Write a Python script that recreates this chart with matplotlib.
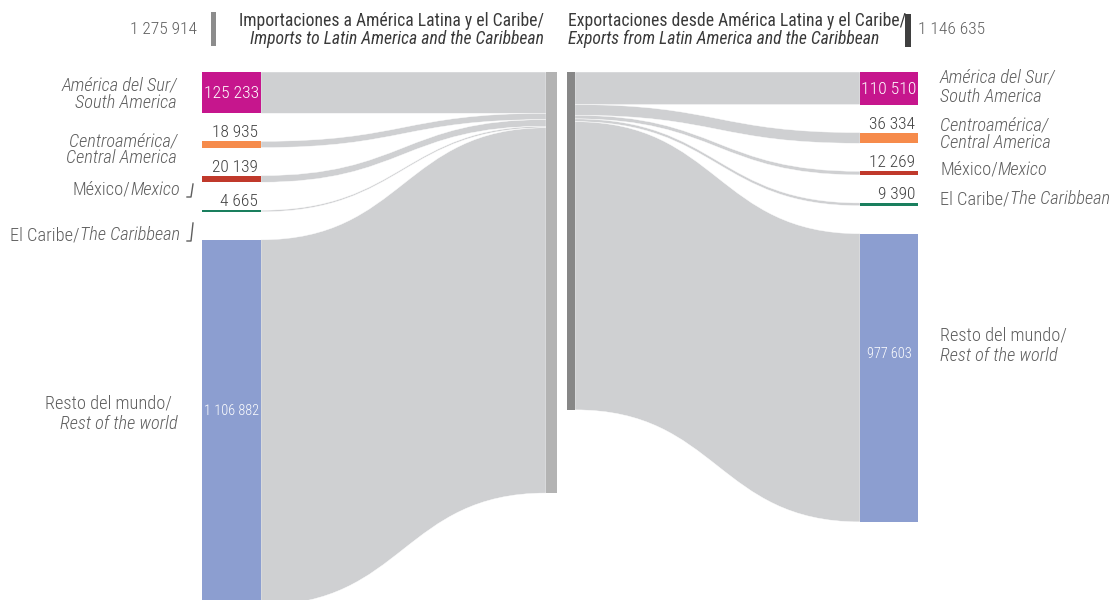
import statistics
import matplotlib
matplotlib.use("Agg")
import matplotlib.pyplot as plt
from matplotlib import font_manager as fm
from matplotlib.path import Path
from matplotlib.patches import PathPatch, Rectangle
from matplotlib.lines import Line2D

# ---------------- data ----------------
regions_es = ["América del Sur/", "Centroamérica/", "México/", "El Caribe/", "Resto del mundo/"]
regions_en = ["South America", "Central America", "Mexico", "The Caribbean", "Rest of the world"]
imports = [125233, 18935, 20139, 4665, 1106882]
exports = [110510, 36334, 12269, 9390, 977603]
import_total = 1275914
export_total = 1146635
header_imp = ["Importaciones a América Latina y el Caribe/", "Imports to Latin America and the Caribbean"]
header_exp = ["Exportaciones desde América Latina y el Caribe/", "Exports from Latin America and the Caribbean"]

# ---------------- styles ----------------
node_colors = ["#C6168D", "#F68B4B", "#C0392B", "#1A7F5E", "#8C9ED0"]
flow_color = "#CFD0D2"
imp_bar_color = "#B3B3B3"
exp_bar_color = "#878787"
txt = "#5E5E5E"
dark = "#404040"
head = "#3A3A3A"

# ---- pick a condensed font if one is installed ----
entries = fm.fontManager.ttflist
names = {f.name for f in entries}
FAMILY, STRETCH = None, 'normal'
for c in ['Roboto Condensed', 'Liberation Sans Narrow', 'Noto Sans Condensed',
          'Open Sans Condensed', 'Arial Narrow', 'DejaVu Sans Condensed']:
    if c in names:
        FAMILY = c
        break
if FAMILY is None:
    for fam in ['Roboto', 'Noto Sans', 'DejaVu Sans', 'Open Sans']:
        if any(f.name == fam and 'condensed' in str(f.stretch) for f in entries):
            FAMILY, STRETCH = fam, 'condensed'
            break
if FAMILY is None:
    FAMILY = 'Roboto' if 'Roboto' in names else 'DejaVu Sans'
FONT = [FAMILY, 'DejaVu Sans']
plt.rcParams['font.family'] = FONT
LIGHT = 'light'

fig = plt.figure(figsize=(11.09, 6.0), dpi=100)
ax = fig.add_axes([0, 0, 1, 1])
ax.set_xlim(0, 1109)
ax.set_ylim(600, 0)
ax.axis('off')
fig.canvas.draw()
renderer = fig.canvas.get_renderer()

TOP = 72
GAP = 28
L_SCALE = 3030.0   # units per pixel, import side
R_SCALE = 3392.0   # units per pixel, export side
LX0, LX1 = 202, 261
IX0, IX1 = 546, 557
EX0, EX1 = 567, 575
RX0, RX1 = 860, 918


def fmt(v):
    return f"{v:,}".replace(",", " ")


def T(x, y, s, size, style='normal', weight=LIGHT, **kw):
    return ax.text(x, y, s, fontsize=size, style=style, fontstretch=STRETCH, fontweight=weight, **kw)


def measure(s, size, style='normal', weight=LIGHT):
    t = T(0, 0, s, size, style, weight)
    w = t.get_window_extent(renderer=renderer).width
    t.remove()
    return w


def fit_size(items, base=12.0, weight=LIGHT):
    ratios = []
    for parts, target in items:
        w = sum(measure(s, base, st, weight) for s, st in parts)
        ratios.append(target / w)
    return base * statistics.median(ratios)


# font sizes fitted to the widths the texts take in the chart
HEAD_FS = fit_size([
    ([(header_imp[0], 'normal')], 300), ([(header_imp[1], 'italic')], 298),
    ([(header_exp[0], 'normal')], 331), ([(header_exp[1], 'italic')], 317),
], weight='normal')
FS = fit_size([
    ([(regions_es[0], 'italic')], 116), ([(regions_en[0], 'italic')], 100),
    ([(regions_es[1], 'italic')], 107), ([(regions_en[1], 'italic')], 111),
    ([(regions_es[2], 'normal'), (regions_en[2], 'italic')], 109),
    ([(regions_es[3], 'normal'), (regions_en[3], 'italic')], 168),
    ([(regions_es[4], 'normal')], 121), ([(regions_en[4], 'italic')], 119),
])
NUM_FS = fit_size([
    ([(fmt(import_total), 'normal')], 67), ([(fmt(export_total), 'normal')], 67),
    ([(fmt(imports[1]), 'normal')], 47), ([(fmt(imports[2]), 'normal')], 48),
    ([(fmt(imports[3]), 'normal')], 37), ([(fmt(exports[1]), 'normal')], 45),
    ([(fmt(exports[2]), 'normal')], 45), ([(fmt(exports[3]), 'normal')], 38),
])
BIG_FS = fit_size([([(fmt(imports[0]), 'normal')], 55), ([(fmt(exports[0]), 'normal')], 55)])
SMALL_FS = fit_size([([(fmt(imports[4]), 'normal')], 53), ([(fmt(exports[4]), 'normal')], 46)])


def stack(vals, scale, gap):
    pos = []
    y = TOP
    for v in vals:
        h = v / scale
        pos.append((y, y + h))
        y += h + gap
    return pos


def flow(x0, a0, b0, x1, a1, b1):
    xm = (x0 + x1) / 2
    verts = [(x0, a0), (xm, a0), (xm, a1), (x1, a1), (x1, b1), (xm, b1), (xm, b0), (x0, b0), (x0, a0)]
    codes = [Path.MOVETO, Path.CURVE4, Path.CURVE4, Path.CURVE4, Path.LINETO,
             Path.CURVE4, Path.CURVE4, Path.CURVE4, Path.CLOSEPOLY]
    ax.add_patch(PathPatch(Path(verts, codes), facecolor=flow_color, edgecolor='white', lw=0.3, zorder=1))


left_pos = stack(imports, L_SCALE, GAP)
right_pos = stack(exports, R_SCALE, GAP)
imp_in = stack(imports, L_SCALE, 0)
exp_out = stack(exports, R_SCALE, 0)

# flows
for (a0, b0), (a1, b1) in zip(left_pos, imp_in):
    flow(LX1, a0, b0, IX0, a1, b1)
for (a0, b0), (a1, b1) in zip(exp_out, right_pos):
    flow(EX1, a0, b0, RX0, a1, b1)

# central bars
ax.add_patch(Rectangle((IX0, TOP), IX1 - IX0, import_total / L_SCALE, color=imp_bar_color, lw=0, zorder=2))
ax.add_patch(Rectangle((EX0, TOP), EX1 - EX0, export_total / R_SCALE, color=exp_bar_color, lw=0, zorder=2))

# node bars
for (a, b), c in zip(left_pos, node_colors):
    ax.add_patch(Rectangle((LX0, a), LX1 - LX0, b - a, color=c, lw=0, zorder=3))
for (a, b), c in zip(right_pos, node_colors):
    ax.add_patch(Rectangle((RX0, a), RX1 - RX0, b - a, color=c, lw=0, zorder=3))

# value labels
for i, ((a, b), v) in enumerate(zip(left_pos, imports)):
    if i == 0:
        T((LX0 + LX1) / 2, (a + b) / 2 + 1, fmt(v), BIG_FS, color='white', ha='center', va='center', zorder=4)
    elif i == 4:
        T((LX0 + LX1) / 2, 411, fmt(v), SMALL_FS, color='white', ha='center', va='center', zorder=4)
    else:
        T(LX1 - 3, a - 1, fmt(v), NUM_FS, color=dark, ha='right', va='bottom', zorder=4)
for i, ((a, b), v) in enumerate(zip(right_pos, exports)):
    if i == 0:
        T((RX0 + RX1) / 2, (a + b) / 2 + 1, fmt(v), BIG_FS, color='white', ha='center', va='center', zorder=4)
    elif i == 4:
        T((RX0 + RX1) / 2, 354, fmt(v), SMALL_FS, color='white', ha='center', va='center', zorder=4)
    else:
        T(RX1 - 3, a - 1, fmt(v), NUM_FS, color=dark, ha='right', va='bottom', zorder=4)


def mixed_right(x, y, s1, s2):
    t2 = T(x, y, s2, FS, 'italic', color=txt, ha='right', va='center')
    w = t2.get_window_extent(renderer=renderer).width
    T(x - w, y, s1, FS, color=txt, ha='right', va='center')


def mixed_left(x, y, s1, s2):
    t1 = T(x, y, s1, FS, color=txt, ha='left', va='center')
    w = t1.get_window_extent(renderer=renderer).width
    T(x + w, y, s2, FS, 'italic', color=txt, ha='left', va='center')


# left labels
T(177, 85, regions_es[0], FS, 'italic', color=txt, ha='right', va='center')
T(177, 103, regions_en[0], FS, 'italic', color=txt, ha='right', va='center')
T(177, 141, regions_es[1], FS, 'italic', color=txt, ha='right', va='center')
T(177, 158, regions_en[1], FS, 'italic', color=txt, ha='right', va='center')
mixed_right(180, 190, regions_es[2], regions_en[2])
mixed_right(180, 235, regions_es[3], regions_en[3])
T(172, 404, regions_es[4], FS, color=txt, ha='right', va='center')
T(178, 424, regions_en[4], FS, 'italic', color=txt, ha='right', va='center')

# leader marks
ax.add_line(Line2D([193, 191, 187], [184, 197, 197], color=txt, lw=1.0))
ax.add_line(Line2D([193, 191, 187], [223, 241, 241], color=txt, lw=1.0))

# right labels
RLX = 940
T(RLX, 78, regions_es[0], FS, 'italic', color=txt, ha='left', va='center')
T(RLX, 97, regions_en[0], FS, 'italic', color=txt, ha='left', va='center')
T(RLX, 125, regions_es[1], FS, 'italic', color=txt, ha='left', va='center')
T(RLX, 143, regions_en[1], FS, 'italic', color=txt, ha='left', va='center')
mixed_left(RLX, 170, regions_es[2], regions_en[2])
mixed_left(RLX, 199, regions_es[3], regions_en[3])
T(RLX, 336, regions_es[4], FS, color=txt, ha='left', va='center')
T(RLX, 356, regions_en[4], FS, 'italic', color=txt, ha='left', va='center')

# header
T(197, 29, fmt(import_total), NUM_FS, color=txt, ha='right', va='center')
ax.add_patch(Rectangle((211, 12), 5, 34, color="#8C8C8C", lw=0))
T(544, 21, header_imp[0], HEAD_FS, weight='normal', color=head, ha='right', va='center')
T(544, 39, header_imp[1], HEAD_FS, 'italic', weight='normal', color=head, ha='right', va='center')
T(568, 21, header_exp[0], HEAD_FS, weight='normal', color=head, ha='left', va='center')
T(568, 39, header_exp[1], HEAD_FS, 'italic', weight='normal', color=head, ha='left', va='center')
ax.add_patch(Rectangle((905, 14), 6, 33, color="#3F3F3F", lw=0))
T(918, 30, fmt(export_total), NUM_FS, color=txt, ha='left', va='center')

fig.savefig("out.png", dpi=100)
